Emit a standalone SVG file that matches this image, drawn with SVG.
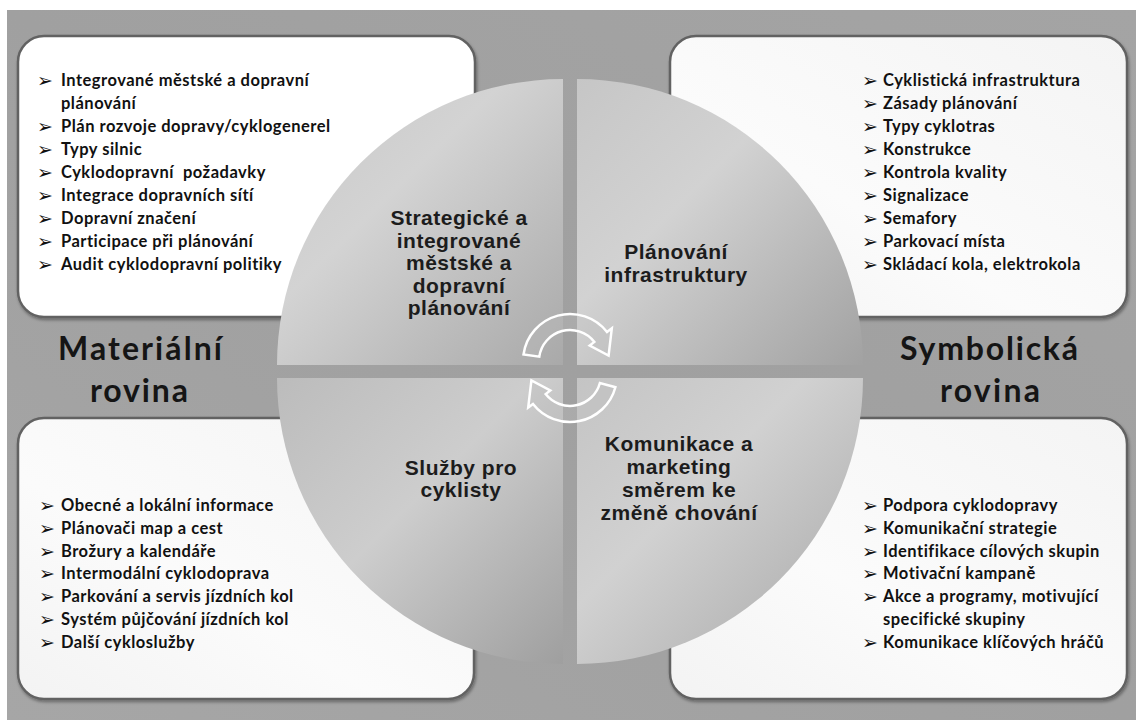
<svg xmlns="http://www.w3.org/2000/svg" width="1136" height="720" viewBox="0 0 1136 720">
<style>
.box{stroke:#626262;stroke-width:2.5;filter:url(#sh)}
.li{font-family:Lato,"Open Sans","Liberation Sans",sans-serif;font-weight:bold;font-size:16.5px;letter-spacing:0.5px;fill:#111;white-space:pre}
.bul{font-family:"DejaVu Sans",sans-serif;font-size:19px;fill:#111}
.qt{font-family:"Liberation Sans",Arial,sans-serif;font-weight:bold;font-size:21px;letter-spacing:0.5px;fill:#1c1c1c;text-anchor:middle}
.big{font-family:Lato,"Open Sans","Liberation Sans",sans-serif;font-weight:bold;font-size:32px;fill:#151515;text-anchor:middle}
.arr{fill:#bdbdbd;fill-opacity:0.35;stroke:#ffffff;stroke-width:2.5;stroke-linejoin:miter}
</style>
<defs>
<filter id="sh" x="-5%" y="-5%" width="110%" height="115%">
<feDropShadow dx="1" dy="2" stdDeviation="1.5" flood-color="#000" flood-opacity="0.35"/>
</filter>
<linearGradient id="bg" x1="0" y1="1" x2="1" y2="0">
<stop offset="0" stop-color="#a6a6a6"/>
<stop offset="0.5" stop-color="#a0a0a0"/>
<stop offset="1" stop-color="#a4a4a4"/>
</linearGradient>
<linearGradient id="bx" x1="0" y1="1" x2="1" y2="0">
<stop offset="0" stop-color="#f3f3f3"/>
<stop offset="0.4" stop-color="#fbfbfb"/>
<stop offset="1" stop-color="#f4f4f4"/>
</linearGradient>
<linearGradient id="gUL" gradientUnits="userSpaceOnUse" x1="300" y1="100" x2="563" y2="365">
<stop offset="0" stop-color="#c9c9c9"/>
<stop offset="0.35" stop-color="#d3d3d3"/>
<stop offset="1" stop-color="#a9a9a9"/>
</linearGradient>
<linearGradient id="gUR" gradientUnits="userSpaceOnUse" x1="577" y1="80" x2="860" y2="365">
<stop offset="0" stop-color="#c6c6c6"/>
<stop offset="0.4" stop-color="#d2d2d2"/>
<stop offset="1" stop-color="#a2a2a2"/>
</linearGradient>
<linearGradient id="gLL" gradientUnits="userSpaceOnUse" x1="280" y1="380" x2="563" y2="664">
<stop offset="0" stop-color="#bcbcbc"/>
<stop offset="0.45" stop-color="#cdcdcd"/>
<stop offset="1" stop-color="#9f9f9f"/>
</linearGradient>
<linearGradient id="gLR" gradientUnits="userSpaceOnUse" x1="577" y1="378" x2="863" y2="664">
<stop offset="0" stop-color="#c4c4c4"/>
<stop offset="0.4" stop-color="#d1d1d1"/>
<stop offset="1" stop-color="#a6a6a6"/>
</linearGradient>
</defs>

<g id="background">
<rect x="0" y="0" width="1136" height="720" fill="#ffffff"/>
<rect x="7" y="10" width="1129" height="710" fill="url(#bg)"/>
</g>

<g id="box-tl">
<rect class="box" x="18" y="36" width="457" height="281" rx="26" fill="#ffffff"/>
</g>
<g id="box-tr">
<rect class="box" x="670" y="36" width="457" height="281" rx="26" fill="url(#bx)"/>
</g>
<g id="box-bl">
<rect class="box" x="18" y="418" width="456" height="281" rx="26" fill="url(#bx)"/>
</g>
<g id="box-br">
<rect class="box" x="670" y="418" width="457" height="281" rx="26" fill="url(#bx)"/>
</g>

<g id="list-tl">
<text class="bul" x="37" y="87">➢</text><text class="li" x="61" y="86">Integrované městské a dopravní</text>
<text class="li" x="61" y="109">plánování</text>
<text class="bul" x="37" y="133">➢</text><text class="li" x="61" y="132">Plán rozvoje dopravy/cyklogenerel</text>
<text class="bul" x="37" y="156">➢</text><text class="li" x="61" y="155">Typy silnic</text>
<text class="bul" x="37" y="179">➢</text><text class="li" x="61" y="178">Cyklodopravní  požadavky</text>
<text class="bul" x="37" y="201.5">➢</text><text class="li" x="61" y="200.5">Integrace dopravních sítí</text>
<text class="bul" x="37" y="224.5">➢</text><text class="li" x="61" y="223.5">Dopravní značení</text>
<text class="bul" x="37" y="247.5">➢</text><text class="li" x="61" y="246.5">Participace při plánování</text>
<text class="bul" x="37" y="270.5">➢</text><text class="li" x="61" y="269.5">Audit cyklodopravní politiky</text>
</g>

<g id="list-tr">
<text class="bul" x="862" y="87">➢</text><text class="li" x="883" y="86">Cyklistická infrastruktura</text>
<text class="bul" x="862" y="110">➢</text><text class="li" x="883" y="109">Zásady plánování</text>
<text class="bul" x="862" y="133">➢</text><text class="li" x="883" y="132">Typy cyklotras</text>
<text class="bul" x="862" y="156">➢</text><text class="li" x="883" y="155">Konstrukce</text>
<text class="bul" x="862" y="179">➢</text><text class="li" x="883" y="178">Kontrola kvality</text>
<text class="bul" x="862" y="201.5">➢</text><text class="li" x="883" y="200.5">Signalizace</text>
<text class="bul" x="862" y="224.5">➢</text><text class="li" x="883" y="223.5">Semafory</text>
<text class="bul" x="862" y="247.5">➢</text><text class="li" x="883" y="246.5">Parkovací místa</text>
<text class="bul" x="862" y="270.5">➢</text><text class="li" x="883" y="269.5">Skládací kola, elektrokola</text>
</g>

<g id="list-bl">
<text class="bul" x="39" y="511.5">➢</text><text class="li" x="61" y="510.5">Obecné a lokální informace</text>
<text class="bul" x="39" y="534.5">➢</text><text class="li" x="61" y="533.5">Plánovači map a cest</text>
<text class="bul" x="39" y="557.5">➢</text><text class="li" x="61" y="556.5">Brožury a kalendáře</text>
<text class="bul" x="39" y="580">➢</text><text class="li" x="61" y="579">Intermodální cyklodoprava</text>
<text class="bul" x="39" y="603">➢</text><text class="li" x="61" y="602">Parkování a servis jízdních kol</text>
<text class="bul" x="39" y="626">➢</text><text class="li" x="61" y="625">Systém půjčování jízdních kol</text>
<text class="bul" x="39" y="649">➢</text><text class="li" x="61" y="648">Další cykloslužby</text>
</g>

<g id="list-br">
<text class="bul" x="862" y="511.5">➢</text><text class="li" x="883" y="510.5">Podpora cyklodopravy</text>
<text class="bul" x="862" y="534.5">➢</text><text class="li" x="883" y="533.5">Komunikační strategie</text>
<text class="bul" x="862" y="557.5">➢</text><text class="li" x="883" y="556.5">Identifikace cílových skupin</text>
<text class="bul" x="862" y="580">➢</text><text class="li" x="883" y="579">Motivační kampaně</text>
<text class="bul" x="862" y="603">➢</text><text class="li" x="883" y="602">Akce a programy, motivující</text>
<text class="li" x="883" y="625">specifické skupiny</text>
<text class="bul" x="862" y="649">➢</text><text class="li" x="883" y="648">Komunikace klíčových hráčů</text>
</g>

<g id="label-left">
<text class="big" x="140" y="360" textLength="164">Materiální</text>
<text class="big" x="139" y="402" textLength="98">rovina</text>
</g>
<g id="label-right">
<text class="big" x="989" y="360" textLength="178">Symbolická</text>
<text class="big" x="990" y="402" textLength="100">rovina</text>
</g>

<g id="quadrant-ul">
<path d="M563,365 L277,365 A286,286 0 0 1 563,79 Z" fill="url(#gUL)"/>
<text class="qt" x="459" y="224.5">Strategické a</text>
<text class="qt" x="459" y="247.5">integrované</text>
<text class="qt" x="459" y="270">městské a</text>
<text class="qt" x="459" y="292.5">dopravní</text>
<text class="qt" x="459" y="315">plánování</text>
</g>
<g id="quadrant-ur">
<path d="M577,365 L577,79 A286,286 0 0 1 863,365 Z" fill="url(#gUR)"/>
<text class="qt" x="676" y="259">Plánování</text>
<text class="qt" x="676" y="282">infrastruktury</text>
</g>
<g id="quadrant-ll">
<path d="M563,378 L563,664 A286,286 0 0 1 277,378 Z" fill="url(#gLL)"/>
<text class="qt" x="461" y="475">Služby pro</text>
<text class="qt" x="461" y="497">cyklisty</text>
</g>
<g id="quadrant-lr">
<path d="M577,378 L863,378 A286,286 0 0 1 577,664 Z" fill="url(#gLR)"/>
<text class="qt" x="679" y="451">Komunikace a</text>
<text class="qt" x="679" y="474">marketing</text>
<text class="qt" x="679" y="497">směrem ke</text>
<text class="qt" x="679" y="520">změně chování</text>
</g>

<g id="connectors">
<path class="arr" d="M523.5,354.5 A47,47 0 0 1 607,332 L611.8,328.3 L608.6,355.6 L589.7,345.6 L594.4,341.9 A31,31 0 0 0 539.3,356.7 Z"/>
<path class="arr" d="M615.4,387.2 A47,47 0 0 1 533,404 L528.2,407.6 L531.4,380.4 L550.3,390.4 L545.6,394.1 A31,31 0 0 0 599.9,383 Z"/>
</g>
</svg>
